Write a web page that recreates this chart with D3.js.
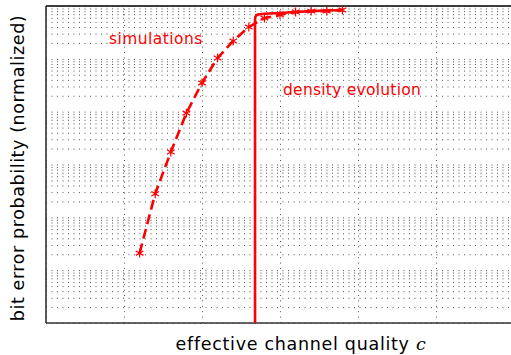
<!DOCTYPE html>
<html>
<head>
<meta charset="utf-8">
<script src="https://cdn.jsdelivr.net/npm/d3@7"></script>
<style>
  html, body { margin: 0; padding: 0; background: #fff; }
  svg { display: block; font-family: "DejaVu Sans", sans-serif; }
</style>
</head>
<body>
<svg id="chart" width="511" height="355"></svg>
<script>
// Simulated bit error probability vs. effective channel quality
const simC = [0.6, 0.7, 0.8, 0.9, 1.0, 1.1, 1.2, 1.3, 1.4, 1.5, 1.6, 1.7, 1.8, 1.9];
const simP = [2.1e-5, 2.8e-4, 1.72e-3, 9.4e-3, 0.035, 0.104, 0.218, 0.40, 0.59, 0.68, 0.77, 0.80, 0.80, 0.84];

// Density-evolution prediction: sharp threshold then saturating branch
const deC = [1.34, 1.34, 1.342, 1.348, 1.36, 1.4, 1.5, 1.6, 1.7, 1.8, 1.9];
const deP = [1e-6, 0.54, 0.62, 0.665, 0.69, 0.715, 0.737, 0.77, 0.80, 0.82, 0.84];

// Axis ranges and grid tick values
const xDomain = [0, 3];
const xGridTicks = [0, 0.5, 1, 1.5, 2, 2.5, 3];
const yDomain = [1e-6, 1];

const labels = {
  x: "effective channel quality ",
  xVar: "c",
  y: "bit error probability (normalized)",
  sim: "simulations",
  de: "density evolution"
};

const svg = d3.select("#chart");
const margin = { left: 46, top: 6 };
const width = 468, height = 317;

const x = d3.scaleLinear().domain(xDomain).range([0, width]);
const y = d3.scaleLog().domain(yDomain).range([height, 0]);

const g = svg.append("g").attr("transform", `translate(${margin.left},${margin.top})`);

g.append("clipPath").attr("id", "plot-clip")
  .append("rect").attr("width", width).attr("height", height);

// Horizontal log grid (1..9 per decade), dotted
const yGrid = g.append("g")
  .call(d3.axisLeft(y).tickSize(-width).tickFormat(""));
yGrid.select(".domain").remove();
yGrid.selectAll(".tick line")
  .attr("stroke", "#555").attr("stroke-width", 1)
  .attr("stroke-dasharray", "1,4.5");

// Vertical grid, dotted
const xGrid = g.append("g")
  .attr("transform", `translate(0,${height})`)
  .call(d3.axisBottom(x).tickValues(xGridTicks).tickSize(-height).tickFormat(""));
xGrid.select(".domain").remove();
xGrid.selectAll(".tick line")
  .attr("stroke", "#555").attr("stroke-width", 1)
  .attr("stroke-dasharray", "1,4.4");

// Frame: left, top and bottom edges
g.append("line").attr("x1", 0).attr("x2", 0).attr("y1", 0).attr("y2", height)
  .attr("stroke", "#333").attr("stroke-width", 1.6);
g.append("line").attr("x1", 0).attr("x2", width).attr("y1", height).attr("y2", height)
  .attr("stroke", "#333").attr("stroke-width", 1.6);
g.append("line").attr("x1", 0).attr("x2", width).attr("y1", 0).attr("y2", 0)
  .attr("stroke", "#000").attr("stroke-width", 1.6);

const plot = g.append("g").attr("clip-path", "url(#plot-clip)");

const line = d3.line().x(d => x(d[0])).y(d => y(d[1]));

// Density evolution curve
plot.append("path")
  .datum(deC.map((c, i) => [c, deP[i]]))
  .attr("d", line.curve(d3.curveLinear))
  .attr("fill", "none").attr("stroke", "#ff0000")
  .attr("stroke-width", 2.6).attr("stroke-linejoin", "round");

// Simulation curve (dashed) with asterisk markers
const simData = simC.map((c, i) => [c, simP[i]]);
plot.append("path")
  .datum(simData)
  .attr("d", line)
  .attr("fill", "none").attr("stroke", "#ff0000")
  .attr("stroke-width", 2.6).attr("stroke-dasharray", "10,5");

plot.selectAll(".mark").data(simData).enter().append("path")
  .attr("class", "mark")
  .attr("transform", d => `translate(${x(d[0])},${y(d[1])})`)
  .attr("d", d3.symbol(d3.symbolAsterisk, 55))
  .attr("fill", "none").attr("stroke", "#ff0000").attr("stroke-width", 1.2);

// In-plot labels
g.append("text").attr("x", 63).attr("y", 38)
  .attr("fill", "#ff0000").attr("font-size", 15.5).attr("letter-spacing", 0.45)
  .text(labels.sim);
g.append("text").attr("x", 237).attr("y", 89)
  .attr("fill", "#ff0000").attr("font-size", 15.5).attr("letter-spacing", 0.25)
  .text(labels.de);

// Axis titles
const xt = svg.append("text").attr("x", 301).attr("y", 350)
  .attr("text-anchor", "middle").attr("font-size", 17.5).attr("letter-spacing", 0.7)
  .attr("fill", "#000");
xt.append("tspan").text(labels.x);
xt.append("tspan").attr("font-family", "'DejaVu Serif', serif")
  .attr("font-style", "italic").text(labels.xVar);

svg.append("text")
  .attr("transform", `translate(24,168) rotate(-90)`)
  .attr("text-anchor", "middle").attr("font-size", 17.5).attr("letter-spacing", 0.6)
  .attr("fill", "#000")
  .text(labels.y);
</script>
</body>
</html>
